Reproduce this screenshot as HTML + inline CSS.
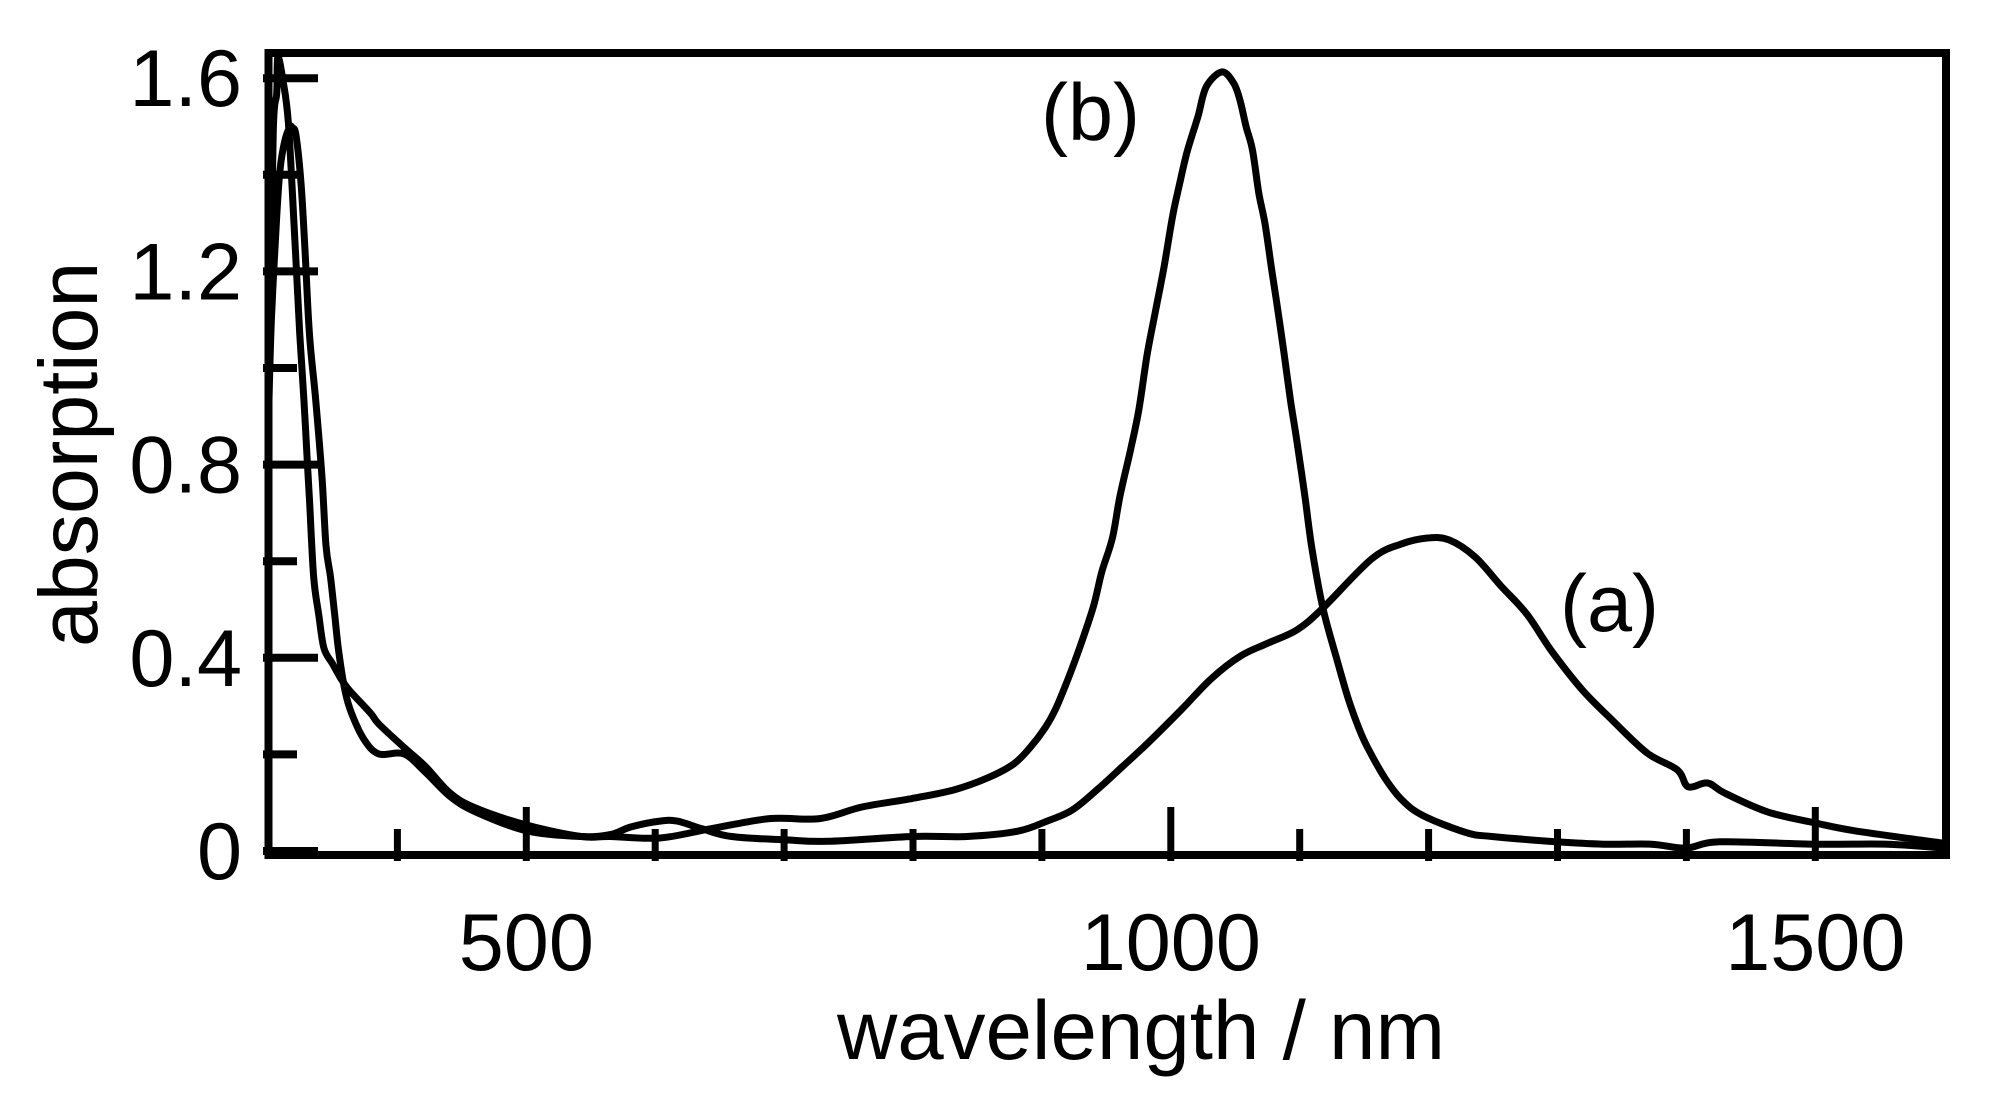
<!DOCTYPE html>
<html lang="en">
<head>
<meta charset="utf-8">
<title>Absorption spectra</title>
<style>
html,body{margin:0;padding:0;background:#fff;}
svg{display:block;}
text{font-family:"Liberation Sans",Arial,sans-serif;fill:#000;}
</style>
</head>
<body>
<svg id="chart" xmlns="http://www.w3.org/2000/svg" width="1995" height="1096" viewBox="0 0 1995 1096"></svg>
<script>
const xMajorTicks = [500, 1000, 1500];
const xMinorTicks = [400, 600, 700, 800, 900, 1100, 1200, 1300, 1400];
const xTickLabels = ["500", "1000", "1500"];
const yMajorTicks = [0, 0.4, 0.8, 1.2, 1.6];
const yMinorTicks = [0.2, 0.6, 1.0, 1.4];
const yTickLabels = ["0", "0.4", "0.8", "1.2", "1.6"];

const seriesAWavelength = [300.4,302.3,306.4,308.9,312.8,316.7,318.6,321.3,325.2,328.3,331.7,336.6,341.5,344.6,348,351.3,354.5,359.3,364.3,374.1,385.6,405,421.4,440.8,460.7,499.8,542.4,565,581.3,603.7,617,636.3,659.2,701.5,734,799.6,842,881.2,904,923.7,943.3,963,982.4,1008.7,1031.5,1054.3,1075,1098,1118,1155.9,1179.2,1199.2,1215.8,1236,1256,1276,1296,1319.4,1342.8,1369.5,1393,1401.3,1416.3,1429.6,1463,1500,1530,1583.3,1600];
const seriesAAbsorption = [0.934,1.106,1.313,1.41,1.472,1.499,1.497,1.482,1.383,1.244,1.072,0.934,0.774,0.632,0.569,0.491,0.412,0.333,0.286,0.231,0.201,0.201,0.164,0.113,0.081,0.042,0.03,0.034,0.05,0.062,0.062,0.046,0.03,0.023,0.02,0.03,0.03,0.041,0.062,0.085,0.128,0.176,0.224,0.294,0.357,0.404,0.43,0.458,0.503,0.605,0.636,0.648,0.644,0.609,0.549,0.491,0.412,0.333,0.27,0.203,0.168,0.133,0.141,0.12,0.081,0.058,0.042,0.022,0.016];

const seriesBWavelength = [301.2,303.7,306.4,307.2,311.2,315.4,320.2,324.2,327.5,330.3,331.8,335,338.9,343,349.6,356.2,362.7,379,385.6,405,421.4,440.8,460.7,499.8,542.4,565,603.7,642.9,688.6,727.4,760.4,799.6,832.3,858.4,878,891.1,902.5,910.6,920.4,930.2,940,946.5,954.7,960.5,968.7,975.2,981.8,988.3,994.8,1001.3,1006.3,1012.8,1021,1027.5,1039.6,1048.7,1053.6,1058.5,1063.4,1068.3,1073,1078,1083,1087.8,1092.8,1097.7,1104.1,1109.6,1118,1129,1137.5,1145.8,1152.5,1165.9,1179.2,1195.9,1229.3,1249.2,1299.5,1336,1372.9,1399.7,1426,1500,1556,1600];
const seriesBAbsorption = [1.10,1.493,1.569,1.644,1.596,1.507,1.279,1.072,0.934,0.795,0.727,0.569,0.491,0.42,0.388,0.357,0.333,0.286,0.263,0.215,0.176,0.12,0.089,0.054,0.03,0.03,0.027,0.046,0.067,0.067,0.091,0.109,0.127,0.152,0.18,0.215,0.255,0.294,0.357,0.4275,0.507,0.578,0.648,0.734,0.83,0.913,1.03,1.12,1.21,1.313,1.375,1.449,1.52,1.582,1.613,1.59,1.555,1.499,1.451,1.362,1.3,1.209,1.12,1.031,0.934,0.851,0.733,0.624,0.503,0.395,0.317,0.255,0.215,0.152,0.106,0.073,0.038,0.03,0.019,0.014,0.014,0.006,0.019,0.014,0.014,0.006];

const svgNS = "http://www.w3.org/2000/svg";
const chart = document.getElementById("chart");

function xScale(nm) { return 268.5 + (nm - 300) * 1.289; }
function yScale(v) { return 851 - v * 483; }

function makeLine(x1, y1, x2, y2, w) {
  const l = document.createElementNS(svgNS, "line");
  l.setAttribute("x1", x1);
  l.setAttribute("y1", y1);
  l.setAttribute("x2", x2);
  l.setAttribute("y2", y2);
  l.setAttribute("stroke", "#000");
  l.setAttribute("stroke-width", w);
  chart.appendChild(l);
  return l;
}
function makeText(str, x, y, size, anchor) {
  const t = document.createElementNS(svgNS, "text");
  t.setAttribute("x", x);
  t.setAttribute("y", y);
  t.setAttribute("font-size", size);
  t.setAttribute("text-anchor", anchor);
  t.textContent = str;
  chart.appendChild(t);
  return t;
}
function makeCurve(xs, ys) {
  const pts = xs.map(function (x, i) { return [xScale(x), yScale(ys[i])]; });
  let d = "M" + pts[0][0].toFixed(1) + " " + pts[0][1].toFixed(1);
  for (let i = 0; i < pts.length - 1; i++) {
    const p0 = pts[Math.max(i - 1, 0)];
    const p1 = pts[i];
    const p2 = pts[i + 1];
    const p3 = pts[Math.min(i + 2, pts.length - 1)];
    const c1x = p1[0] + (p2[0] - p0[0]) / 6;
    const c1y = p1[1] + (p2[1] - p0[1]) / 6;
    const c2x = p2[0] - (p3[0] - p1[0]) / 6;
    const c2y = p2[1] - (p3[1] - p1[1]) / 6;
    d += " C" + c1x.toFixed(1) + " " + c1y.toFixed(1) + " " + c2x.toFixed(1) + " " + c2y.toFixed(1) + " " + p2[0].toFixed(1) + " " + p2[1].toFixed(1);
  }
  const p = document.createElementNS(svgNS, "path");
  p.setAttribute("d", d);
  p.setAttribute("fill", "none");
  p.setAttribute("stroke", "#000");
  p.setAttribute("stroke-width", "7");
  p.setAttribute("stroke-linejoin", "round");
  chart.appendChild(p);
  return p;
}

const frame = document.createElementNS(svgNS, "rect");
frame.setAttribute("x", 268.5);
frame.setAttribute("y", 53);
frame.setAttribute("width", 1677.5);
frame.setAttribute("height", 802);
frame.setAttribute("fill", "none");
frame.setAttribute("stroke", "#000");
frame.setAttribute("stroke-width", "8");


chart.appendChild(frame);

xMajorTicks.forEach(function (v) {
  const tick = makeLine(xScale(v), 807, xScale(v), 861, 7);
  
  
});
xMinorTicks.forEach(function (v) {
  const tick = makeLine(xScale(v), 829, xScale(v), 861, 7);
  
  
});
yMajorTicks.forEach(function (v) {
  const tick = makeLine(263, yScale(v), 318, yScale(v), 8);
  
  
});
yMinorTicks.forEach(function (v) {
  const tick = makeLine(263, yScale(v), 297, yScale(v), 8);
  
  
});

xMajorTicks.forEach(function (v, i) {
  const label = makeText(xTickLabels[i], xScale(v), 970, 81, "middle");
  
  
});
yMajorTicks.forEach(function (v, i) {
  const label = makeText(yTickLabels[i], 242, yScale(v) + 28, 81, "end");
  
  
});

const curveA = makeCurve(seriesAWavelength, seriesAAbsorption);


const curveB = makeCurve(seriesBWavelength, seriesBAbsorption);



const xTitle = makeText("wavelength / nm", 1141, 1059, 83.5, "middle");



const yTitle = makeText("absorption", 0, 0, 82.5, "start");
yTitle.setAttribute("transform", "translate(97,647) rotate(-90)");



const labelA = makeText("(a)", 1560, 631, 81, "start");


const labelB = makeText("(b)", 1041, 140, 81, "start");


</script>
</body>
</html>
